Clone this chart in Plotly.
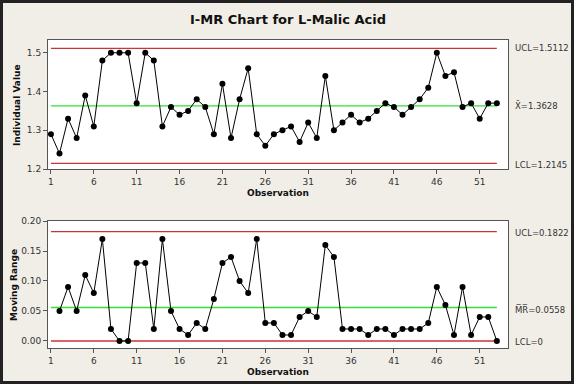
import plotly.graph_objects as go

obs = list(range(1, 54))
indiv = [1.29, 1.24, 1.33, 1.28, 1.39, 1.31, 1.48, 1.50, 1.50, 1.50,
         1.37, 1.50, 1.48, 1.31, 1.36, 1.34, 1.35, 1.38, 1.36, 1.29,
         1.42, 1.28, 1.38, 1.46, 1.29, 1.26, 1.29, 1.30, 1.31, 1.27,
         1.32, 1.28, 1.44, 1.30, 1.32, 1.34, 1.32, 1.33, 1.35, 1.37,
         1.36, 1.34, 1.36, 1.38, 1.41, 1.50, 1.44, 1.45, 1.36, 1.37,
         1.33, 1.37, 1.37]
mr_obs = list(range(2, 54))
mr = [0.05, 0.09, 0.05, 0.11, 0.08, 0.17, 0.02, 0.00, 0.00, 0.13,
      0.13, 0.02, 0.17, 0.05, 0.02, 0.01, 0.03, 0.02, 0.07, 0.13,
      0.14, 0.10, 0.08, 0.17, 0.03, 0.03, 0.01, 0.01, 0.04, 0.05,
      0.04, 0.16, 0.14, 0.02, 0.02, 0.02, 0.01, 0.02, 0.02, 0.01,
      0.02, 0.02, 0.02, 0.03, 0.09, 0.06, 0.01, 0.09, 0.01, 0.04,
      0.04, 0.00]

i_ucl, i_cl, i_lcl = 1.5112, 1.3628, 1.2145
mr_ucl, mr_cl, mr_lcl = 0.1822, 0.0558, 0.0
x_ticks = [1, 6, 11, 16, 21, 26, 31, 36, 41, 46, 51]

RED = "#cc3333"
GREEN = "#33e033"
FONT = "DejaVu Sans"

fig = go.Figure()

def limit(x0, x1, y, color, xa, ya):
    fig.add_trace(go.Scatter(x=[x0, x1], y=[y, y], mode="lines",
                             line=dict(color=color, width=1.3),
                             xaxis=xa, yaxis=ya, hoverinfo="skip"))

limit(1, 53, i_ucl, RED, "x", "y")
limit(1, 53, i_lcl, RED, "x", "y")
limit(1, 53, i_cl, GREEN, "x", "y")
limit(1, 53, mr_ucl, RED, "x2", "y2")
limit(1, 53, mr_lcl, RED, "x2", "y2")
limit(1, 53, mr_cl, GREEN, "x2", "y2")

fig.add_trace(go.Scatter(x=obs, y=indiv, mode="lines+markers",
                         line=dict(color="black", width=1),
                         marker=dict(color="black", size=6),
                         xaxis="x", yaxis="y"))
fig.add_trace(go.Scatter(x=mr_obs, y=mr, mode="lines+markers",
                         line=dict(color="black", width=1),
                         marker=dict(color="black", size=6),
                         xaxis="x2", yaxis="y2"))

W, H = 574, 384
ml, mr_, mt, mb = 48, 66, 40, 36
pw, ph = W - ml - mr_, H - mt - mb

def py(pix):
    return (H - mb - pix) / ph

def px(pix):
    return (pix - ml) / pw

axis_common = dict(showgrid=False, zeroline=False, showline=True,
                   linecolor="#555555", linewidth=1, mirror=True,
                   ticks="outside", ticklen=4, tickcolor="#555555",
                   tickfont=dict(family=FONT, size=9, color="#333333"))

fig.update_layout(
    width=W, height=H,
    margin=dict(l=ml, r=mr_, t=mt, b=mb),
    paper_bgcolor="#f1eee7",
    plot_bgcolor="white",
    showlegend=False,
    font=dict(family=FONT, color="#222222"),
    xaxis=dict(domain=[0, 1], range=[0.66, 54.3], anchor="y",
               tickvals=x_ticks, **axis_common),
    yaxis=dict(domain=[py(169), 1], range=[1.2, 1.533], anchor="x",
               tickvals=[1.2, 1.3, 1.4, 1.5],
               ticktext=["1.2", "1.3", "1.4", "1.5"], **axis_common),
    xaxis2=dict(domain=[0, 1], range=[0.66, 54.3], anchor="y2",
                tickvals=x_ticks, **axis_common),
    yaxis2=dict(domain=[0, py(221)], range=[-0.0117, 0.2], anchor="x2",
                tickvals=[0.0, 0.05, 0.10, 0.15, 0.20],
                ticktext=["0.00", "0.05", "0.10", "0.15", "0.20"], **axis_common),
)

ann = []
def add(text, x, y, size=9, angle=0, xanchor="center", color="#111111"):
    ann.append(dict(text=text, x=px(x), y=py(y), xref="paper", yref="paper",
                    showarrow=False, textangle=angle, xanchor=xanchor,
                    yanchor="middle",
                    font=dict(family=FONT, size=size, color=color)))

add("<b>I-MR Chart for L-Malic Acid</b>", 288, 19, size=13)
add("<b>Individual Value</b>", 17, 105, angle=-90)
add("<b>Moving Range</b>", 14, 285, angle=-90)
add("<b>Observation</b>", 278, 193)
add("<b>Observation</b>", 278, 372)

right_labels = [("UCL=1.5112", 48), ("X\u0304=1.3628", 105), ("LCL=1.2145", 165),
                ("UCL=0.1822", 233), ("M\u0305R\u0305=0.0558", 309), ("LCL=0", 342)]
for t, yy in right_labels:
    add(t, 513, yy, size=8.5, xanchor="left", color="#333333")
fig.update_layout(annotations=ann)

fig.add_shape(type="rect", xref="paper", yref="paper",
              x0=px(1.5), x1=px(W - 1.5), y0=py(H - 1.5), y1=py(1.5),
              line=dict(color="#222222", width=3), layer="above")

fig.write_html("out.html", config={"displayModeBar": False},
               post_script="document.body.style.margin='0';"
                           "document.body.style.overflow='hidden';")
